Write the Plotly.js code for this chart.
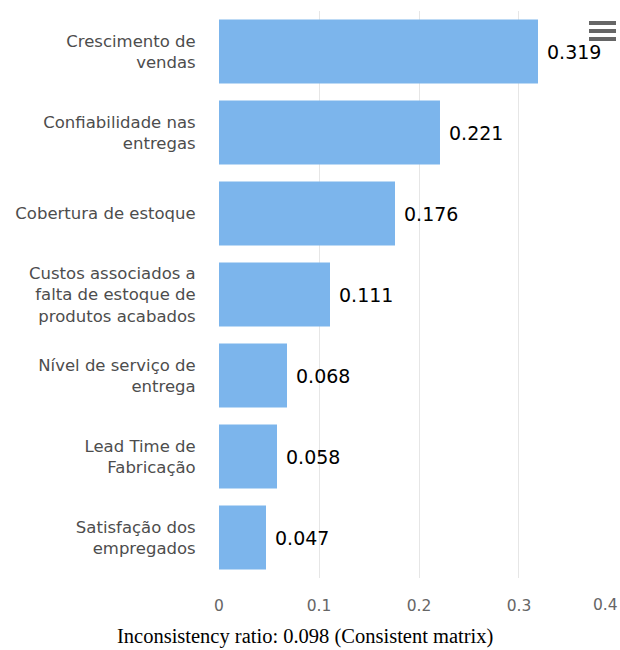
<!DOCTYPE html>
<html><head><meta charset="utf-8">
<script src="https://cdn.plot.ly/plotly-3.0.1.min.js"></script>
<style>html,body{margin:0;padding:0;background:#fff;}#chart{width:620px;height:650px;}</style>
</head><body><div id="chart"></div>
<script>
const categories = [
  "Crescimento de<br>vendas",
  "Confiabilidade nas<br>entregas",
  "Cobertura de estoque",
  "Custos associados a<br>falta de estoque de<br>produtos acabados",
  "Nível de serviço de<br>entrega",
  "Lead Time de<br>Fabricação",
  "Satisfação dos<br>empregados"
];
const weights = [0.319, 0.221, 0.176, 0.111, 0.068, 0.058, 0.047];
const tickValues = [0, 0.1, 0.2, 0.3, 0.4];
const tickLabels = ["0", "0.1", "0.2", "0.3", "0.4"];
const caption = "Inconsistency ratio: 0.098 (Consistent matrix)";

const trace = {
  type: "bar", orientation: "h",
  x: weights, y: categories,
  marker: {color: "#7cb5ec"},
  hoverinfo: "x+y"
};

const tickFont = {family: "DejaVu Sans, sans-serif", size: 15.5, color: "#666"};
const lastIdx = tickLabels.length - 1;

const annotations = weights.map((v, i) => ({
  x: v, y: categories[i], xref: "x", yref: "y",
  text: v.toFixed(3), showarrow: false, xanchor: "left", xshift: 7,
  font: {family: "DejaVu Sans, sans-serif", size: 19, color: "#000"}
}));
// last tick label is pulled inside the chart edge (right-aligned), as in the reference
annotations.push({
  x: tickValues[lastIdx], xref: "x", y: -0.0476, yref: "paper",
  xanchor: "right", yanchor: "middle", xshift: 1,
  text: tickLabels[lastIdx], showarrow: false, font: tickFont
});
annotations.push({
  x: (305 - 219) / 400, xref: "paper", y: -0.104, yref: "paper",
  xanchor: "center", yanchor: "middle",
  text: caption, showarrow: false,
  font: {family: "Liberation Serif, serif", size: 20.5, color: "#000"}
});

const hamburger = [0, 1, 2].map(k => ({
  type: "line", xref: "paper", yref: "paper",
  x0: (589 - 219) / 400, x1: (616 - 219) / 400,
  y0: (578 - (23 + k * 8)) / 567, y1: (578 - (23 + k * 8)) / 567,
  line: {color: "#666", width: 4}
}));

const layout = {
  width: 620, height: 650,
  margin: {l: 219, r: 1, t: 11, b: 72},
  paper_bgcolor: "#fff", plot_bgcolor: "#fff",
  bargap: 0.21,
  showlegend: false,
  font: {family: "DejaVu Sans, sans-serif"},
  xaxis: {
    range: [0, 0.40001], tickvals: tickValues,
    ticktext: tickLabels.map((t, i) => i === lastIdx ? "" : t),
    showgrid: true, gridcolor: "#e6e6e6", gridwidth: 1,
    zeroline: false, showline: false,
    ticks: "outside", ticklen: 13, tickcolor: "rgba(0,0,0,0)",
    tickfont: tickFont
  },
  yaxis: {
    autorange: "reversed", showgrid: false, zeroline: false, showline: false,
    ticks: "outside", ticklen: 19, tickcolor: "rgba(0,0,0,0)",
    tickfont: {size: 16.5, color: "#4d4d4d"}
  },
  annotations: annotations,
  shapes: hamburger
};

Plotly.newPlot("chart", [trace], layout, {displayModeBar: false, responsive: false});
</script></body></html>
